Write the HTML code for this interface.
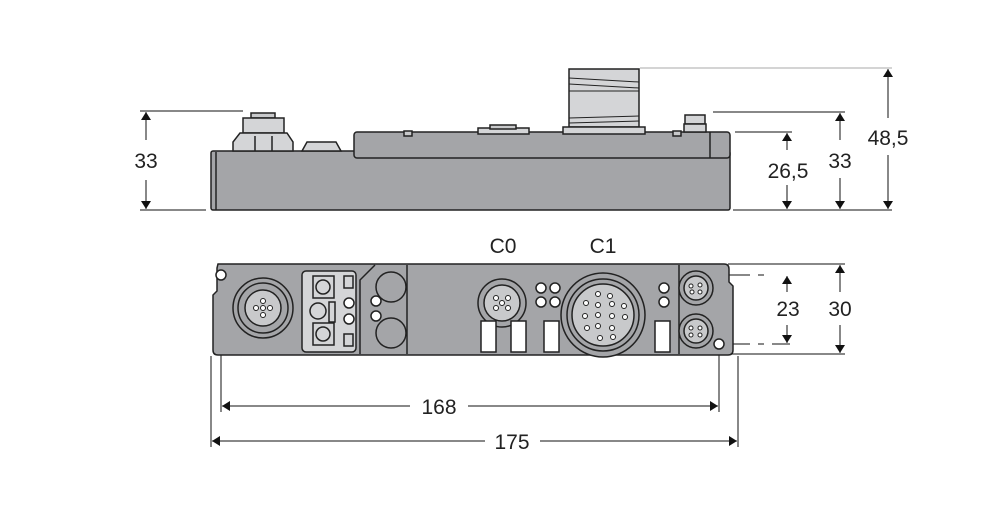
<!DOCTYPE html>
<html><head><meta charset="utf-8"><style>
html,body{margin:0;padding:0;background:#fff;}
svg{display:block;}
text{font-family:"Liberation Sans",sans-serif;font-size:21px;fill:#222;}
</style></head><body>
<svg width="999" height="513" viewBox="0 0 999 513" xmlns="http://www.w3.org/2000/svg">
<defs>
<marker id="a" markerWidth="8" markerHeight="12" refX="8" refY="6" orient="auto" markerUnits="userSpaceOnUse"><path d="M0,1 L8,6 L0,11 Z" fill="#111"/></marker>
</defs>
<g stroke="#111" stroke-width="1" fill="none">
<!-- extension lines top view -->
<line x1="140" y1="111" x2="243" y2="111"/>
<line x1="140" y1="210" x2="206" y2="210"/>
<line x1="640" y1="68" x2="892" y2="68" stroke="#aaa"/>
<line x1="713" y1="112" x2="845" y2="112"/>
<line x1="735" y1="132" x2="792" y2="132"/>
<line x1="733" y1="210" x2="892" y2="210"/>
<!-- dims -->
<line x1="146" y1="140" x2="146" y2="112" marker-end="url(#a)"/>
<line x1="146" y1="180" x2="146" y2="209" marker-end="url(#a)"/>
<line x1="787" y1="150" x2="787" y2="133" marker-end="url(#a)"/>
<line x1="787" y1="185" x2="787" y2="209" marker-end="url(#a)"/>
<line x1="840" y1="140" x2="840" y2="113" marker-end="url(#a)"/>
<line x1="840" y1="178" x2="840" y2="209" marker-end="url(#a)"/>
<line x1="888" y1="118" x2="888" y2="69" marker-end="url(#a)"/>
<line x1="888" y1="155" x2="888" y2="209" marker-end="url(#a)"/>
<!-- bottom view extension -->
<line x1="728" y1="264" x2="845" y2="264"/>
<line x1="728" y1="354" x2="845" y2="354"/>
<line x1="720" y1="275" x2="765" y2="275" stroke-dasharray="30,8,6,8"/>
<line x1="720" y1="344" x2="790" y2="344" stroke-dasharray="30,8,6,8"/>
<line x1="787" y1="292" x2="787" y2="276" marker-end="url(#a)"/>
<line x1="787" y1="325" x2="787" y2="343" marker-end="url(#a)"/>
<line x1="840" y1="292" x2="840" y2="265" marker-end="url(#a)"/>
<line x1="840" y1="325" x2="840" y2="353" marker-end="url(#a)"/>
<line x1="221" y1="280" x2="221" y2="412"/>
<line x1="719" y1="344" x2="719" y2="412"/>
<line x1="211" y1="356" x2="211" y2="447"/>
<line x1="738" y1="356" x2="738" y2="447"/>
<line x1="410" y1="406" x2="222" y2="406" marker-end="url(#a)"/>
<line x1="468" y1="406" x2="718" y2="406" marker-end="url(#a)"/>
<line x1="485" y1="441" x2="212" y2="441" marker-end="url(#a)"/>
<line x1="540" y1="441" x2="737" y2="441" marker-end="url(#a)"/>
</g>
<g>
<text x="146" y="168" text-anchor="middle">33</text>
<text x="788" y="178" text-anchor="middle">26,5</text>
<text x="840" y="168" text-anchor="middle">33</text>
<text x="888" y="145" text-anchor="middle">48,5</text>
<text x="788" y="316" text-anchor="middle">23</text>
<text x="840" y="316" text-anchor="middle">30</text>
<text x="439" y="414" text-anchor="middle">168</text>
<text x="512" y="449" text-anchor="middle">175</text>
<text x="503" y="253" text-anchor="middle">C0</text>
<text x="603" y="253" text-anchor="middle">C1</text>
</g>
<!-- top view -->
<g stroke="#222" stroke-width="1.5">
<rect x="211" y="151" width="519" height="59" rx="2" fill="#a4a5a8"/>
<line x1="216" y1="152" x2="216" y2="210"/>
<rect x="354" y="132" width="376" height="26" rx="3" fill="#a4a5a8"/>
<line x1="710" y1="132" x2="710" y2="158"/>
<rect x="251" y="113" width="24" height="5" fill="#c8c9cb"/>
<rect x="243" y="118" width="41" height="15" fill="#d4d5d7"/>
<path d="M233,151 L233,142 L240,133 L287,133 L293,142 L293,151 Z" fill="#d4d5d7"/>
<line x1="255" y1="136" x2="255" y2="151"/><line x1="272" y1="136" x2="272" y2="151"/>
<path d="M302,151 L307,142 L336,142 L341,151 Z" fill="#d4d5d7"/>
<rect x="478" y="128" width="51" height="6" fill="#d4d5d7"/>
<rect x="490" y="125" width="26" height="4" fill="#c8c9cb"/>
<rect x="569" y="69" width="70" height="58" fill="#d4d5d7"/>
<line x1="569" y1="78" x2="639" y2="82" stroke-width="1"/><line x1="569" y1="84" x2="639" y2="88" stroke-width="1"/>
<line x1="569" y1="91" x2="639" y2="91" stroke-width="1"/>
<line x1="569" y1="118" x2="639" y2="116" stroke-width="1"/><line x1="569" y1="123" x2="639" y2="121" stroke-width="1"/>
<rect x="563" y="127" width="82" height="7" fill="#d4d5d7"/>
<rect x="685" y="115" width="20" height="9" fill="#d4d5d7"/>
<rect x="684" y="124" width="22" height="8" fill="#d4d5d7"/>
<rect x="404" y="131" width="8" height="5" fill="#c8c9cb"/>
<rect x="673" y="131" width="8" height="5" fill="#c8c9cb"/>
</g>
<!-- bottom view -->
<g stroke="#222" stroke-width="1.5">
<path d="M218,264 L724,264 Q729,264 729,269 L729,282 L733,286 L733,350 Q733,355 728,355 L218,355 Q213,355 213,350 L213,295 L217,291 L217,268 Z" fill="#a4a5a8"/>
<line x1="407" y1="265" x2="407" y2="354"/>
<path d="M375,265 L360,280 L360,354" fill="none"/>
<line x1="679" y1="265" x2="679" y2="354"/>
<circle cx="221" cy="275" r="5" fill="#fff"/>
<circle cx="719" cy="344" r="5" fill="#fff"/>
<circle cx="263" cy="308" r="30" fill="#a4a5a8"/>
<circle cx="263" cy="308" r="25" fill="#a4a5a8"/>
<circle cx="263" cy="308" r="18" fill="#c8c9cb"/>
<rect x="302" y="271" width="54" height="81" rx="4" fill="#d4d5d7"/>
<rect x="313" y="276" width="21" height="22" fill="#d4d5d7"/>
<rect x="313" y="323" width="21" height="22" fill="#d4d5d7"/>
<circle cx="323" cy="287" r="7" fill="#d4d5d7"/>
<circle cx="323" cy="334" r="7" fill="#d4d5d7"/>
<circle cx="318" cy="311" r="8" fill="#d4d5d7"/>
<rect x="329" y="302" width="6" height="20" fill="#d4d5d7"/>
<rect x="344" y="276" width="9" height="12" fill="#d4d5d7"/>
<rect x="344" y="334" width="9" height="12" fill="#d4d5d7"/>
<circle cx="349" cy="303" r="5" fill="#fff"/>
<circle cx="349" cy="319" r="5" fill="#fff"/>
<circle cx="391" cy="287" r="15" fill="#a4a5a8"/>
<circle cx="391" cy="333" r="15" fill="#a4a5a8"/>
<circle cx="376" cy="301" r="5" fill="#fff"/>
<circle cx="376" cy="316" r="5" fill="#fff"/>
<circle cx="502" cy="303" r="24" fill="#a4a5a8"/>
<circle cx="502" cy="303" r="18" fill="#c8c9cb"/>
<circle cx="541" cy="288" r="5" fill="#fff"/><circle cx="555" cy="288" r="5" fill="#fff"/>
<circle cx="541" cy="302" r="5" fill="#fff"/><circle cx="555" cy="302" r="5" fill="#fff"/>
<circle cx="603" cy="315" r="42" fill="#a4a5a8"/>
<circle cx="603" cy="315" r="36" fill="#a4a5a8"/>
<circle cx="603" cy="315" r="31" fill="#c8c9cb"/>
<circle cx="664" cy="288" r="5" fill="#fff"/><circle cx="664" cy="302" r="5" fill="#fff"/>
<circle cx="696" cy="288" r="17" fill="#a4a5a8"/><circle cx="696" cy="288" r="12" fill="#c8c9cb"/>
<circle cx="696" cy="331" r="17" fill="#a4a5a8"/><circle cx="696" cy="331" r="12" fill="#c8c9cb"/>
<rect x="481" y="321" width="15" height="31" fill="#fff"/>
<rect x="511" y="321" width="15" height="31" fill="#fff"/>
<rect x="544" y="321" width="15" height="31" fill="#fff"/>
<rect x="655" y="321" width="15" height="31" fill="#fff"/>
</g>
<g fill="#fff" stroke="#222" stroke-width="1">
<circle cx="263" cy="308" r="2.5"/><circle cx="256" cy="308" r="2.5"/><circle cx="270" cy="308" r="2.5"/><circle cx="263" cy="301" r="2.5"/><circle cx="263" cy="315" r="2.5"/>
<circle cx="502" cy="303" r="2.5"/><circle cx="496" cy="298" r="2.5"/><circle cx="508" cy="298" r="2.5"/><circle cx="496" cy="308" r="2.5"/><circle cx="508" cy="308" r="2.5"/>
<circle cx="598" cy="294" r="2.5"/><circle cx="610" cy="296" r="2.5"/><circle cx="586" cy="303" r="2.5"/><circle cx="598" cy="305" r="2.5"/><circle cx="612" cy="304" r="2.5"/><circle cx="624" cy="306" r="2.5"/>
<circle cx="585" cy="316" r="2.5"/><circle cx="598" cy="315" r="2.5"/><circle cx="612" cy="316" r="2.5"/><circle cx="625" cy="317" r="2.5"/>
<circle cx="587" cy="328" r="2.5"/><circle cx="598" cy="326" r="2.5"/><circle cx="612" cy="328" r="2.5"/><circle cx="600" cy="338" r="2.5"/><circle cx="613" cy="337" r="2.5"/>
<circle cx="691" cy="286" r="2"/><circle cx="700" cy="285" r="2"/><circle cx="692" cy="292" r="2"/><circle cx="700" cy="292" r="2"/>
<circle cx="691" cy="328" r="2"/><circle cx="700" cy="328" r="2"/><circle cx="691" cy="335" r="2"/><circle cx="700" cy="335" r="2"/>
</g>
</svg>
</body></html>
